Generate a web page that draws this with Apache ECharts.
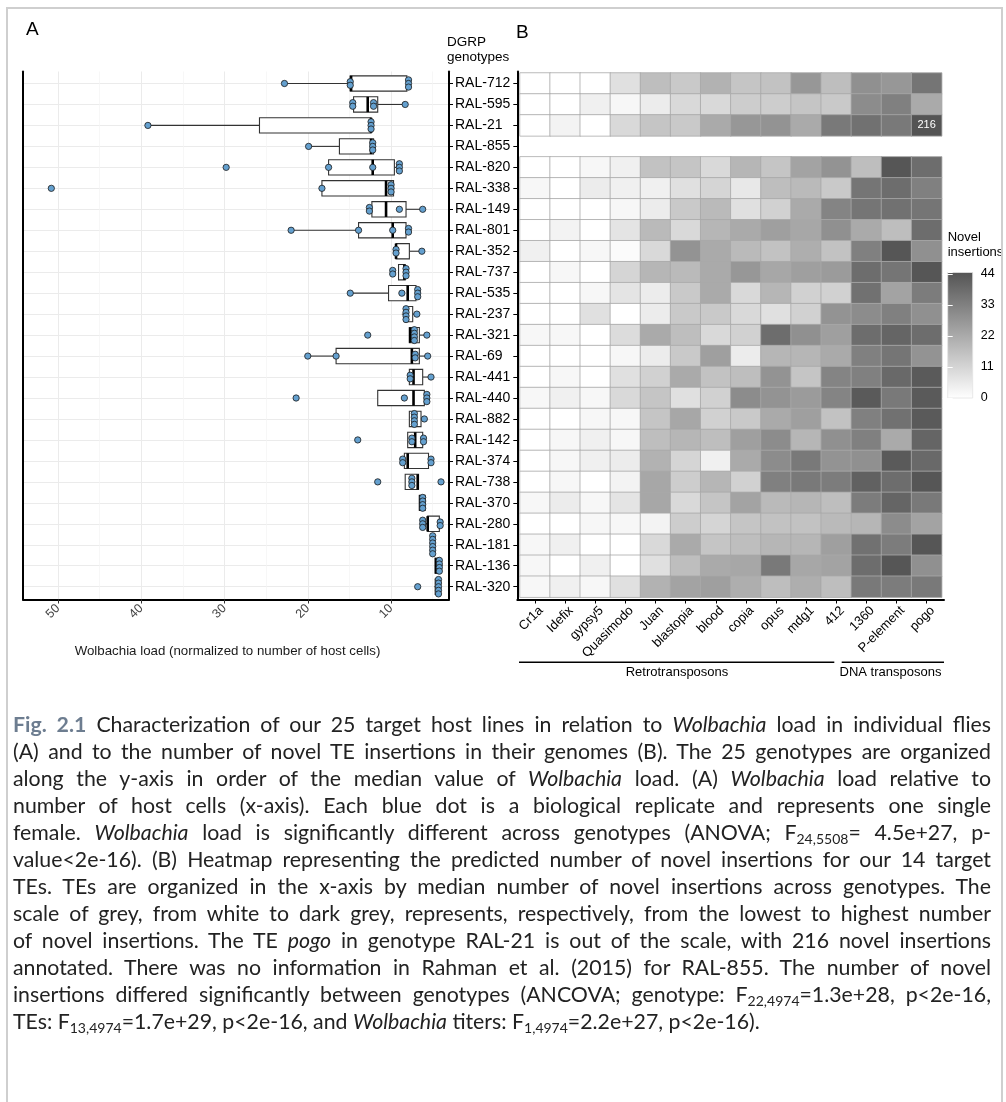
<!DOCTYPE html>
<html><head><meta charset="utf-8">
<script src="https://cdn.jsdelivr.net/npm/echarts@6/dist/echarts.min.js"></script>
<style>
html,body{margin:0;padding:0;background:#fff;}
#chart{position:absolute;left:0;top:0;width:1006px;height:1102px;}
#caption{position:absolute;left:13px;top:711px;width:978px;font-family:Lato,"Open Sans",sans-serif;font-size:21.3px;line-height:27px;color:#222;}
#caption .ln{height:27px;white-space:nowrap;}
#caption .inner{display:inline-block;white-space:nowrap;}
#caption .fig{color:#6d7d90;font-weight:bold;}
#caption sub{font-size:14px;vertical-align:-4px;line-height:0;}
</style></head>
<body>
<div id="chart"></div>
<div id="caption"></div>
<script>
// ---------------- data ----------------
const genotypes = ['RAL-712','RAL-595','RAL-21 ','RAL-855','RAL-820','RAL-338','RAL-149','RAL-801','RAL-352','RAL-737','RAL-535','RAL-237','RAL-321','RAL-69 ','RAL-441','RAL-440','RAL-882','RAL-142','RAL-374','RAL-738','RAL-370','RAL-280','RAL-181','RAL-136','RAL-320'];

// Wolbachia load box statistics: [lower whisker, Q1, median, Q3, upper whisker]
const boxStats = [
 [7.9, 8.1, 14.8, 14.9, 22.8],
 [8.3, 11.6, 12.8, 14.5, 14.6],
 [12.3, 12.4, 12.4, 25.8, 39.2],
 [12.1, 12.1, 12.4, 16.2, 19.9],
 [8.8, 9.6, 12.2, 17.5, 17.5],
 [9.7, 9.7, 10.6, 18.3, 18.3],
 [6.2, 8.2, 10.6, 12.3, 12.6],
 [7.9, 8.2, 9.8, 13.9, 22.0],
 [6.3, 7.8, 9.4, 9.4, 9.4],
 [8.2, 8.3, 8.4, 9.1, 9.1],
 [6.8, 7.0, 8.0, 10.3, 14.9],
 [6.9, 7.4, 8.2, 8.4, 8.7],
 [5.7, 6.6, 7.7, 7.8, 7.8],
 [5.6, 6.6, 7.5, 16.6, 20.0],
 [5.2, 6.2, 7.3, 7.8, 7.8],
 [5.5, 6.0, 7.3, 11.6, 11.6],
 [6.0, 6.4, 7.3, 7.8, 7.8],
 [6.1, 6.2, 7.1, 8.0, 8.0],
 [5.0, 5.5, 8.0, 8.4, 8.8],
 [6.7, 6.7, 6.8, 8.3, 8.3],
 [5.9, 5.9, 6.5, 6.6, 6.6],
 [4.1, 4.2, 5.6, 5.6, 6.5],
 [4.7, 4.8, 5.0, 5.2, 5.3],
 [3.8, 4.1, 4.6, 4.7, 4.7],
 [4.1, 4.2, 4.4, 4.7, 4.8]
];

// biological replicates (one female each)
const replicates = [
 [22.8, 14.9, 14.9, 7.9, 7.9, 7.9],
 [14.6, 14.6, 12.1, 12.1, 8.3],
 [39.2, 12.4, 12.4, 12.4],
 [19.9, 12.2, 12.2, 12.2],
 [29.8, 17.5, 12.2, 9.0, 9.0, 9.0],
 [50.8, 18.3, 10.0, 10.0, 10.0],
 [12.6, 12.6, 9.0, 6.2],
 [22.0, 13.9, 9.8, 7.9, 7.9],
 [9.4, 9.4, 6.3],
 [9.8, 9.8, 8.2, 8.2, 8.2],
 [14.9, 8.7, 6.8, 6.8, 6.8],
 [8.2, 8.2, 8.2, 8.2, 6.9],
 [12.8, 7.2, 7.2, 7.2, 7.2, 5.7],
 [20.0, 16.6, 7.1, 7.1, 5.6],
 [7.7, 7.7, 5.2],
 [21.4, 8.4, 5.7, 5.7, 5.7],
 [7.2, 7.2, 7.2, 7.2, 6.0],
 [14.0, 7.5, 7.5, 6.1, 6.1],
 [8.6, 8.6, 5.2, 5.2],
 [11.6, 7.5, 7.5, 7.5, 4.0],
 [6.2, 6.2, 6.2, 6.2],
 [6.2, 6.2, 6.2, 4.1, 4.1],
 [5.0, 5.0, 5.0, 5.0, 5.0, 5.0],
 [4.2, 4.2, 4.2, 4.2],
 [6.8, 4.3, 4.3, 4.3, 4.3, 4.3]
];

const teNames = ['Cr1a','Idefix','gypsy5','Quasimodo','Juan','blastopia','blood','copia','opus','mdg1','412','1360','P-element','pogo'];

// novel insertions per genotype (rows) and TE (columns); null = no information
const insertions = [
 [0, 0, 0, 8, 17, 14, 20, 15, 16, 27, 17, 29, 27, 36],
 [0, 0, 4, 2, 5, 10, 10, 13, 13, 15, 14, 30, 33, 22],
 [0, 3, 0, 10, 15, 14, 22, 27, 28, 22, 35, 37, 35, 216],
 null,
 [0, 0, 2, 4, 16, 15, 10, 19, 15, 24, 28, 17, 44, 38],
 [2, 0, 5, 4, 4, 8, 11, 6, 17, 18, 14, 36, 38, 33],
 [0, 0, 0, 2, 5, 14, 18, 8, 12, 22, 32, 36, 37, 36],
 [0, 3, 0, 7, 18, 10, 19, 22, 25, 23, 29, 22, 17, 38],
 [4, 0, 2, 1, 10, 28, 22, 18, 16, 21, 16, 33, 44, 29],
 [0, 2, 0, 11, 19, 18, 22, 27, 23, 25, 26, 38, 36, 44],
 [0, 0, 2, 7, 5, 14, 22, 10, 19, 12, 12, 37, 24, 34],
 [0, 0, 8, 0, 5, 14, 14, 10, 8, 12, 28, 30, 33, 29],
 [2, 2, 0, 9, 22, 17, 10, 12, 38, 29, 25, 38, 40, 38],
 [0, 0, 0, 2, 5, 14, 25, 5, 19, 19, 22, 33, 36, 28],
 [0, 2, 0, 8, 12, 22, 16, 17, 28, 15, 32, 33, 39, 43],
 [2, 4, 2, 10, 15, 8, 12, 30, 28, 26, 32, 43, 35, 43],
 [0, 0, 2, 2, 15, 23, 12, 14, 22, 25, 16, 33, 37, 43],
 [0, 2, 4, 2, 17, 19, 17, 25, 30, 19, 29, 33, 22, 40],
 [0, 2, 4, 5, 20, 11, 4, 22, 30, 35, 28, 29, 43, 39],
 [0, 2, 0, 3, 23, 13, 19, 12, 33, 35, 34, 41, 38, 44],
 [2, 5, 2, 7, 23, 10, 15, 24, 18, 19, 17, 34, 40, 35],
 [0, 0, 2, 2, 3, 13, 11, 15, 16, 16, 18, 19, 30, 24],
 [2, 4, 0, 0, 10, 22, 15, 17, 19, 19, 25, 37, 34, 44],
 [2, 0, 4, 0, 8, 17, 22, 23, 35, 23, 24, 38, 44, 29],
 [2, 4, 2, 8, 20, 24, 25, 21, 17, 21, 17, 35, 34, 35]
];

const loadTicks = [10, 20, 30, 40, 50];
const legendTicks = [0, 11, 22, 33, 44];
const legendMax = 44.5;

// ---------------- derived series data ----------------
const boxData = boxStats.map((s, i) => [i].concat(s));

const dotSpacing = 3.6;
const dotData = [];
replicates.forEach((vals, i) => {
  const groups = new Map();
  vals.forEach(v => { if (!groups.has(v)) groups.set(v, 0); groups.set(v, groups.get(v) + 1); });
  groups.forEach((n, v) => {
    for (let j = 0; j < n; j++) {
      dotData.push({ value: [v, i], symbolOffset: [0, (j - (n - 1) / 2) * dotSpacing] });
    }
  });
});

const heatData = [];
insertions.forEach((row, r) => {
  if (!row) return;
  row.forEach((v, c) => heatData.push([c, r, v]));
});

// ---------------- chart ----------------
const FONT = '"Liberation Sans", Arial, Helvetica, sans-serif';
const chart = echarts.init(document.getElementById('chart'), null, { renderer: 'canvas', width: 1006, height: 1102 });

function renderBox(params, api) {
  const c = api.value(0);
  const pLo = api.coord([api.value(1), c]);
  const pQ1 = api.coord([api.value(2), c]);
  const pMd = api.coord([api.value(3), c]);
  const pQ3 = api.coord([api.value(4), c]);
  const pHi = api.coord([api.value(5), c]);
  const h = 15.3;
  const y = pMd[1];
  const x0 = Math.min(pQ1[0], pQ3[0]), x1 = Math.max(pQ1[0], pQ3[0]);
  const st = { stroke: '#333', lineWidth: 1.1 };
  return { type: 'group', children: [
    { type: 'line', shape: { x1: pLo[0], y1: y, x2: pQ1[0], y2: y }, style: st },
    { type: 'line', shape: { x1: pQ3[0], y1: y, x2: pHi[0], y2: y }, style: st },
    { type: 'rect', shape: { x: x0, y: y - h / 2, width: x1 - x0, height: h }, style: { fill: '#fff', stroke: '#333', lineWidth: 1.1 } },
    { type: 'line', shape: { x1: pMd[0], y1: y - h / 2, x2: pMd[0], y2: y + h / 2 }, style: { stroke: '#000', lineWidth: 2.6 } }
  ] };
}

function renderLegendBar(params, api) {
  const p0 = api.coord([0, 0]);
  const p1 = api.coord([1, legendMax]);
  return {
    type: 'rect',
    shape: { x: p0[0], y: p1[1], width: p1[0] - p0[0], height: p0[1] - p1[1] },
    style: {
      fill: new echarts.graphic.LinearGradient(0, 0, 0, 1, [
        { offset: 0, color: '#545454' }, { offset: 1, color: '#ffffff' }
      ]),
      stroke: '#e2e2e2', lineWidth: 0.8
    }
  };
}

const blackLine = { show: true, onZero: false, lineStyle: { color: '#000', width: 2 } };
const off = { show: false };

const option = {
  animation: false,
  backgroundColor: '#fff',
  textStyle: { fontFamily: FONT },
  grid: [
    { left: 23, top: 71.5, width: 426, height: 528, outerBoundsMode: 'none' },
    { left: 23, top: 73, width: 426, height: 524.2, outerBoundsMode: 'none' },
    { left: 517.3, top: 71.5, width: 426.7, height: 528, outerBoundsMode: 'none' },
    { left: 520, top: 73, width: 421.7, height: 524.2, outerBoundsMode: 'none' },
    { left: 526, top: 73, width: 421.7, height: 524.2, outerBoundsMode: 'none' },
    { left: 947.7, top: 272.5, width: 25, height: 125.5, outerBoundsMode: 'none' }
  ],
  xAxis: [
    { gridIndex: 0, type: 'value', min: 3.04, max: 54.2, inverse: true,
      axisLine: blackLine,
      axisTick: { show: true, customValues: loadTicks, length: 4, lineStyle: { color: '#333', width: 1 } },
      axisLabel: { customValues: loadTicks, rotate: 45, fontSize: 12.5, color: '#444', margin: 7 },
      splitLine: { show: true, lineStyle: { color: '#ebebeb', width: 1 } },
      minorTick: { show: false, splitNumber: 2 },
      minorSplitLine: { show: true, lineStyle: { color: '#f3f3f3', width: 0.7 } },
      name: 'Wolbachia load (normalized to number of host cells)', nameLocation: 'middle', nameGap: 45,
      nameTextStyle: { fontSize: 13.3, color: '#1a1a1a', padding: [0, 17, 0, 0] } },
    { gridIndex: 1, type: 'value', min: 3.04, max: 54.2, inverse: true, show: false },
    { gridIndex: 2, type: 'value', min: 0, max: 1, axisLine: blackLine, axisTick: off, axisLabel: off, splitLine: off },
    { gridIndex: 3, type: 'category', data: teNames, offset: 2.3, axisLine: off,
      axisTick: { show: true, alignWithLabel: true, interval: 0, length: 4, lineStyle: { color: '#000', width: 1 } },
      axisLabel: off, splitLine: off },
    { gridIndex: 4, type: 'category', data: teNames, offset: 2.3, axisLine: off, axisTick: off,
      axisLabel: { show: true, interval: 0, rotate: 45, fontSize: 13, color: '#000', margin: 9 }, splitLine: off },
    { gridIndex: 5, type: 'value', min: 0, max: 1, show: false }
  ],
  yAxis: [
    { gridIndex: 0, type: 'value', min: 0, max: 1, position: 'left', axisLine: blackLine, axisTick: off, axisLabel: off, splitLine: off },
    { gridIndex: 0, type: 'value', min: 0, max: 1, position: 'right', axisLine: blackLine, axisTick: off, axisLabel: off, splitLine: off },
    { gridIndex: 1, type: 'category', data: genotypes, inverse: true, position: 'right', axisLine: off,
      axisTick: { show: true, alignWithLabel: true, interval: 0, length: 4, lineStyle: { color: '#000', width: 1 } },
      axisLabel: { show: true, interval: 0, fontSize: 14, color: '#000', margin: 6 },
      splitLine: { show: true, interval: 0, alignWithLabel: true, lineStyle: { color: '#ebebeb', width: 1 } } },
    { gridIndex: 2, type: 'value', min: 0, max: 1, position: 'left', axisLine: blackLine, axisTick: off, axisLabel: off, splitLine: off },
    { gridIndex: 3, type: 'category', data: genotypes, inverse: true, position: 'left', offset: 2.7, axisLine: off,
      axisTick: { show: true, alignWithLabel: true, interval: 0, length: 4, lineStyle: { color: '#000', width: 1 } },
      axisLabel: off, splitLine: off },
    { gridIndex: 4, type: 'category', data: genotypes, inverse: true, show: false },
    { gridIndex: 5, type: 'value', min: 0, max: legendMax, interval: 11, position: 'right', z: 10, axisLine: off,
      axisTick: { show: true, inside: true, length: 5, lineStyle: { color: '#fff', width: 1 } },
      axisLabel: { show: true, fontSize: 12.5, color: '#000', margin: 8, showMaxLabel: false }, splitLine: off },
    { gridIndex: 5, type: 'value', min: 0, max: legendMax, interval: 11, position: 'left', z: 10, axisLine: off,
      axisTick: { show: true, inside: true, length: 5, lineStyle: { color: '#fff', width: 1 } },
      axisLabel: off, splitLine: off }
  ],
  visualMap: {
    type: 'continuous', show: false, seriesIndex: 2, dimension: 2, min: 0, max: legendMax,
    inRange: { color: ['#ffffff', '#545454'] }, outOfRange: { color: ['#232323'] }
  },
  series: [
    { type: 'custom', name: 'box', xAxisIndex: 1, yAxisIndex: 2, data: boxData,
      encode: { x: [1, 2, 3, 4, 5], y: 0 }, renderItem: renderBox, z: 2, silent: true },
    { type: 'scatter', name: 'replicates', xAxisIndex: 1, yAxisIndex: 2, data: dotData,
      symbol: 'circle', symbolSize: 6.3,
      itemStyle: { color: '#64a0cf', borderColor: '#1b1b1b', borderWidth: 0.8, opacity: 1 }, z: 3, silent: true },
    { type: 'heatmap', xAxisIndex: 3, yAxisIndex: 4, data: heatData,
      itemStyle: { borderColor: '#a8a8a8', borderWidth: 0.8 },
      label: { show: true, formatter: p => (p.value[2] > legendMax ? String(p.value[2]) : ''), color: '#fff', fontSize: 11, fontFamily: FONT },
      emphasis: { disabled: true }, silent: true },
    { type: 'custom', xAxisIndex: 5, yAxisIndex: 6, data: [[0]], renderItem: renderLegendBar, z: 1, silent: true }
  ],
  graphic: [
    { type: 'text', silent: true, style: { text: 'A', x: 26, y: 30, font: '19px ' + FONT, fill: '#000', verticalAlign: 'middle' } },
    { type: 'text', silent: true, style: { text: 'B', x: 516, y: 33, font: '19px ' + FONT, fill: '#000', verticalAlign: 'middle' } },
    { type: 'text', silent: true, style: { text: 'DGRP\ngenotypes', x: 447, y: 34.5, font: '13.5px ' + FONT, lineHeight: 15, fill: '#000', verticalAlign: 'top' } },
    { type: 'text', silent: true, style: { text: 'Novel\ninsertions', x: 947.7, y: 229.5, font: '13px ' + FONT, lineHeight: 15, fill: '#000', verticalAlign: 'top' } },
    { type: 'line', silent: true, shape: { x1: 519, y1: 662.3, x2: 834.3, y2: 662.3 }, style: { stroke: '#000', lineWidth: 1.6 } },
    { type: 'line', silent: true, shape: { x1: 841.7, y1: 662.3, x2: 944, y2: 662.3 }, style: { stroke: '#000', lineWidth: 1.6 } },
    { type: 'text', silent: true, style: { text: 'Retrotransposons', x: 677, y: 672.5, font: '13px ' + FONT, fill: '#000', align: 'center', verticalAlign: 'middle' } },
    { type: 'text', silent: true, style: { text: 'DNA transposons', x: 890.5, y: 672.5, font: '13px ' + FONT, fill: '#000', align: 'center', verticalAlign: 'middle' } },
    { type: 'rect', silent: true, z: 100, shape: { x: 7, y: 8, width: 995, height: 1130 }, style: { fill: null, stroke: '#cfcfcf', lineWidth: 2 } }
  ]
};
chart.setOption(option);

// ---------------- caption ----------------
const captionLines = [
  ['<span class="fig">Fig. 2.1</span> Characterization of our 25 target host lines in relation to <i>Wolbachia</i> load in individual flies', true],
  ['(A) and to the number of novel TE insertions in their genomes (B). The 25 genotypes are organized', true],
  ['along the y-axis in order of the median value of <i>Wolbachia</i> load. (A) <i>Wolbachia</i> load relative to', true],
  ['number of host cells (x-axis). Each blue dot is a biological replicate and represents one single', true],
  ['female. <i>Wolbachia</i> load is significantly different across genotypes (ANOVA; F<sub>24,5508</sub>= 4.5e+27, p-', true],
  ['value&lt;2e-16). (B) Heatmap representing the predicted number of novel insertions for our 14 target', true],
  ['TEs. TEs are organized in the x-axis by median number of novel insertions across genotypes. The', true],
  ['scale of grey, from white to dark grey, represents, respectively, from the lowest to highest number', true],
  ['of novel insertions. The TE <i>pogo</i> in genotype RAL-21 is out of the scale, with 216 novel insertions', true],
  ['annotated. There was no information in Rahman et al. (2015) for RAL-855. The number of novel', true],
  ['insertions differed significantly between genotypes (ANCOVA; genotype: F<sub>22,4974</sub>=1.3e+28, p&lt;2e-16,', true],
  ['TEs: F<sub>13,4974</sub>=1.7e+29, p&lt;2e-16, and <i>Wolbachia</i> titers: F<sub>1,4974</sub>=2.2e+27, p&lt;2e-16).', false]
];
const cap = document.getElementById('caption');
const inners = [];
captionLines.forEach(([html, just]) => {
  const ln = document.createElement('div');
  ln.className = 'ln';
  const inner = document.createElement('span');
  inner.className = 'inner';
  inner.innerHTML = html;
  ln.appendChild(inner);
  cap.appendChild(ln);
  inners.push([inner, just]);
});
function justify() {
  const W = 978;
  inners.forEach(([inner, just]) => {
    if (!just) return;
    inner.style.wordSpacing = '0px';
    const w = inner.getBoundingClientRect().width;
    const n = (inner.textContent.match(/ /g) || []).length;
    if (n > 0) inner.style.wordSpacing = ((W - w) / n) + 'px';
  });
}
justify();
if (document.fonts && document.fonts.ready) document.fonts.ready.then(justify);
</script>
</body></html>
